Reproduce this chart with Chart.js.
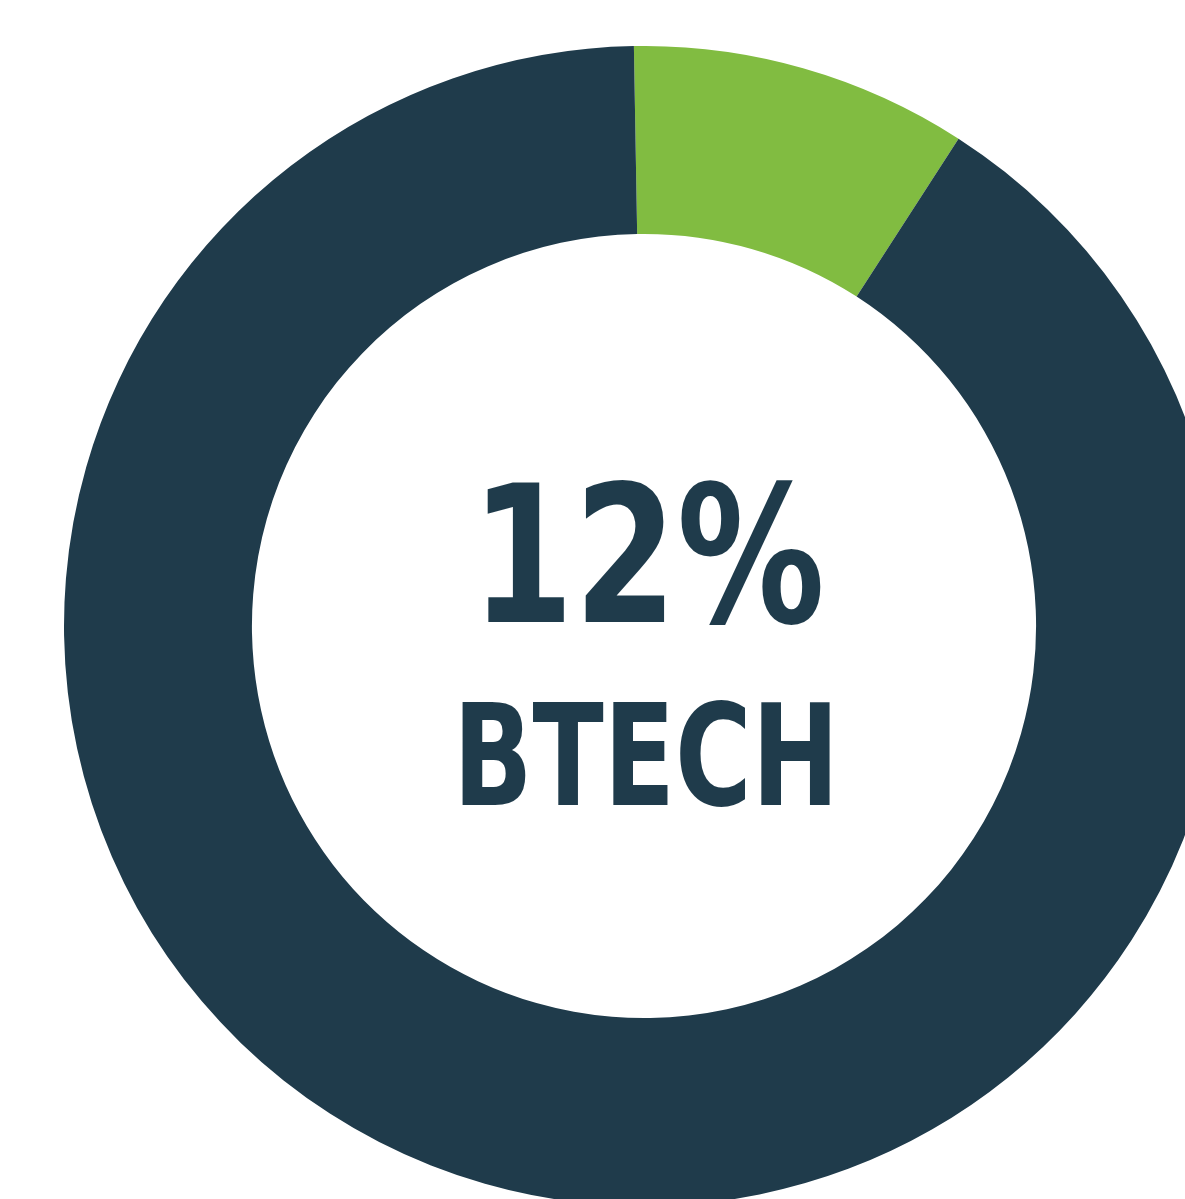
<!DOCTYPE html>
<html>
<head>
<meta charset="utf-8">
<script src="https://cdn.jsdelivr.net/npm/chart.js@4"></script>
<style>
    html, body { margin: 0; padding: 0; background: #fff; overflow: hidden; }
    #wrap { position: absolute; left: 64px; top: 46px; }
</style>
</head>
<body>
<div id="wrap"><canvas id="btechChart" width="1160" height="1160"></canvas></div>
<script>
// slice drawn in the picture is narrower than its label says, so the wedge follows the drawing
const labels = ['BTECH', 'Others']
const values = [9.4, 90.6]
const colors = ['#81bc41', '#1f3b4b']

const centerValue = '12%'
const centerLabel = 'BTECH'

const centerText = {
    id: 'centerText',
    afterDraw(chart) {
        const { ctx } = chart
        const arc = chart.getDatasetMeta(0).data[0]
        const cx = arc.x, cy = arc.y
        const family = "'Liberation Sans Narrow', 'DejaVu Sans Condensed', 'Roboto', 'Liberation Sans', sans-serif"

        const drawFitted = (text, size, dx, baseline, width) => {
            ctx.save()
            ctx.font = `bold ${size}px ${family}`
            ctx.fillStyle = '#1f3b4b'
            ctx.textAlign = 'center'
            ctx.textBaseline = 'alphabetic'
            const w = ctx.measureText(text).width
            ctx.translate(cx + dx, cy + baseline)
            ctx.scale(width / w, 1)
            ctx.fillText(text, 0, 0)
            ctx.restore()
        }

        drawFitted(centerValue, 190, 4, -4, 354)
        drawFitted(centerLabel, 141, 2, 179, 386)
    }
}

const renderBtechChart = () => {

    const data = {
        labels,
        datasets: [{
            data: values,
            backgroundColor: colors,
            borderWidth: 0
        }]
    }

    const options = {
        responsive: false,
        animation: false,
        cutout: '67.6%',
        rotation: -1,
        layout: { padding: 0 },
        plugins: {
            legend: { display: false },
            tooltip: { enabled: false }
        }
    }

    new Chart('btechChart', { type: 'doughnut', data, options, plugins: [centerText] })
}

renderBtechChart()
</script>
</body>
</html>
